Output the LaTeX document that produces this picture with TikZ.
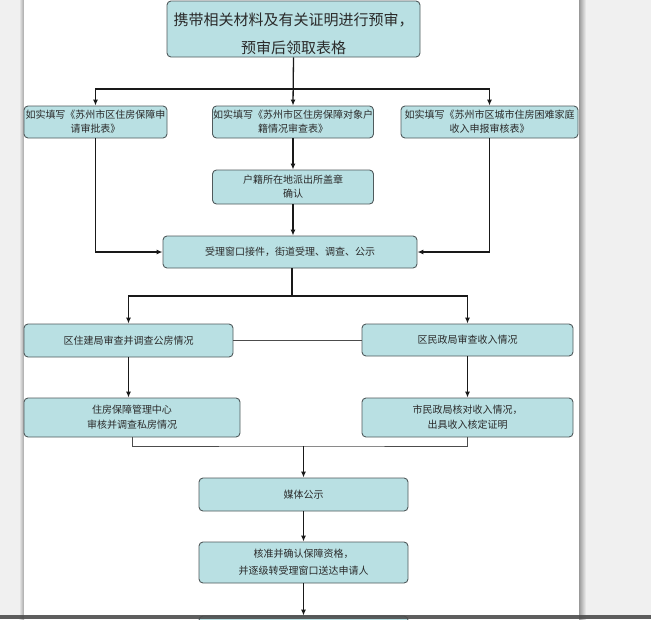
\documentclass[tikz,border=0pt]{standalone}
\usepackage{fontspec}
\newfontfamily\cjk{Noto Sans CJK SC}
\usetikzlibrary{arrows.meta}
\definecolor{boxfill}{HTML}{B9E0E3}
\definecolor{boxline}{HTML}{505A5C}
\definecolor{pagebg}{HTML}{F0F0F0}
\definecolor{txt}{HTML}{2A2A2A}
\definecolor{barc}{HTML}{4D4D4D}
\begin{document}
\begin{tikzpicture}[x=1pt,y=-1pt,
  box/.style={draw=boxline, fill=boxfill, rounded corners=4pt, line width=0.9pt,
    align=center, inner sep=0pt, text=txt, font=\cjk\fontsize{10}{14}\selectfont},
  conn/.style={line width=1.3pt, draw=black!90},
  thinconn/.style={line width=0.9pt, draw=black!70},
  arr/.style={conn, -{Latex[length=6pt,width=5pt]}}
]
\useasboundingbox (0,0) rectangle (651,619);
\clip (0,0) rectangle (651,619);
% page background
\fill[pagebg] (0,0) rectangle (651,619);
\shade[left color=pagebg, right color=black!35] (19,0) rectangle (24,619);
\shade[left color=black!40, right color=pagebg] (579,0) rectangle (586,619);
\fill[white] (24,0) rectangle (579,619);

% nodes
\node[box, minimum width=253pt, minimum height=56pt, font=\cjk\fontsize{15}{28}\selectfont] (top) at (293.5,29)
  {\rule{0pt}{22pt}携带相关材料及有关证明进行预审，\\预审后领取表格};
\node[box, minimum width=143pt, minimum height=32pt] (A) at (95.5,122)
  {如实填写《苏州市区住房保障申\\请审批表》};
\node[box, minimum width=161pt, minimum height=32pt] (B) at (293,122)
  {如实填写《苏州市区住房保障对象户\\籍情况审查表》};
\node[box, minimum width=177pt, minimum height=32pt] (C) at (489.5,122)
  {如实填写《苏州市区城市住房困难家庭\\收入申报审核表》};
\node[box, minimum width=161pt, minimum height=34pt] (D) at (293,187)
  {户籍所在地派出所盖章\\确认};
\node[box, minimum width=254pt, minimum height=32pt] (E) at (290,252)
  {受理窗口接件，街道受理、调查、公示};
\node[box, minimum width=209pt, minimum height=33pt] (F) at (128.5,340.5)
  {区住建局审查并调查公房情况};
\node[box, minimum width=211pt, minimum height=32pt] (G) at (467.5,340)
  {区民政局审查收入情况};
\node[box, minimum width=216pt, minimum height=39pt, font=\cjk\fontsize{10}{15}\selectfont] (H) at (132,417.5)
  {住房保障管理中心\\审核并调查私房情况};
\node[box, minimum width=211pt, minimum height=39pt, font=\cjk\fontsize{10}{15}\selectfont] (I) at (467.5,417.5)
  {市民政局核对收入情况，\\出具收入核定证明};
\node[box, minimum width=209pt, minimum height=33pt] (J) at (303.5,494.5)
  {媒体公示};
\node[box, minimum width=209pt, minimum height=41pt, font=\cjk\fontsize{10}{17}\selectfont] (K) at (303.5,562.5)
  {核准并确认保障资格，\\并逐级转受理窗口送达申请人};
\node[box, minimum width=209pt, minimum height=34pt] (L) at (303.5,633) {};

% connectors
\coordinate (h1) at (293,89);
\coordinate (h2) at (292,296);
\coordinate (h3) at (303.5,446);
\draw[arr] (top.south) -- (B.north);
\draw[arr] (h1) -| (A.north);
\draw[arr] (h1) -| (C.north);
\draw[arr] (B.south) -- (D.north);
\draw[arr] (D.south) -- (D.south |- E.north);
\draw[arr] (A.south) |- (E.west);
\draw[arr] (C.south) |- (E.east);
\draw[conn] (E.south -| h2) -- (h2);
\draw[arr] (h2) -| (F.north);
\draw[arr] (h2) -| (G.north);
\draw[thinconn] (F.east) -- (F.east -| G.west);
\draw[arr] (F.south) -- (F.south |- H.north);
\draw[arr] (G.south) -- (I.north);
\draw[thinconn] (H.south) |- (h3) -| (I.south);
\draw[arr] (h3) -- (J.north);
\draw[arr] (J.south) -- (K.north);
\draw[arr] (K.south) -- (L.north);

% bottom bar of the viewer
\fill[barc, opacity=0.9] (0,615) rectangle (651,619);
\end{tikzpicture}
\end{document}
